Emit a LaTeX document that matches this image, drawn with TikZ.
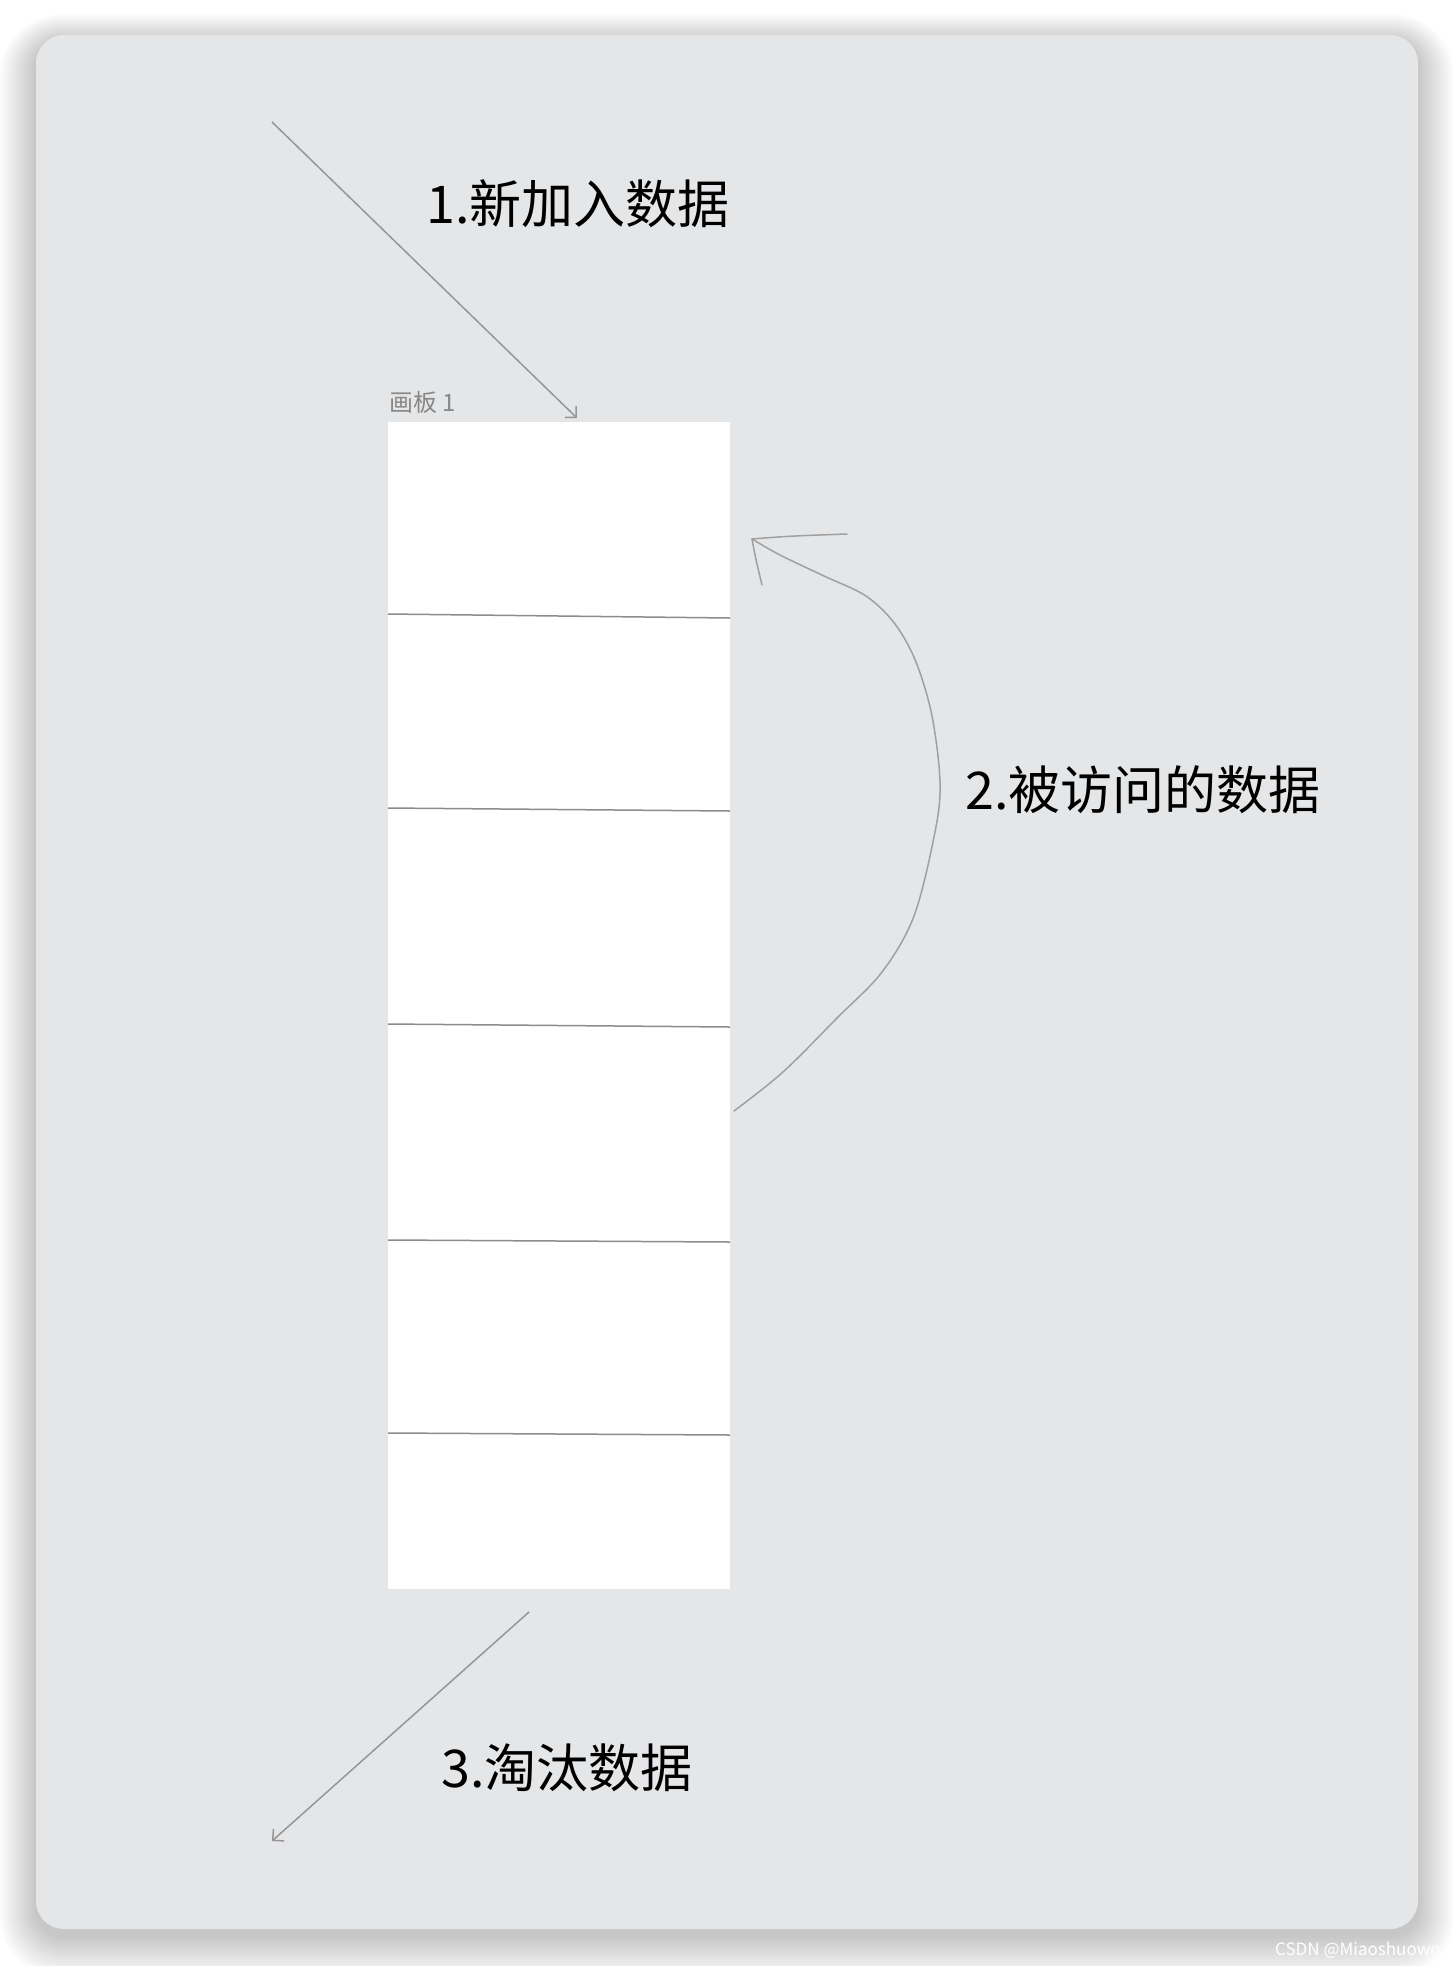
\documentclass[tikz,border=0pt]{standalone}
\usepackage{fontspec}
\setmainfont{Noto Sans CJK SC}
\usetikzlibrary{arrows.meta}
\definecolor{panelbg}{RGB}{229,230,232}
\definecolor{arrowgray}{RGB}{150,150,150}
\definecolor{curvegray}{RGB}{160,160,160}
\definecolor{linegray}{RGB}{140,140,140}
\definecolor{labelgray}{RGB}{135,135,135}
\tikzset{
  bigtext/.style={anchor=west, inner sep=0pt, font=\fontsize{52}{60}\selectfont, text=black},
  arrowline/.style={draw=arrowgray, line width=1.5pt, -{Straight Barb[length=8pt,width=16pt,line width=1.5pt]}},
  sketch/.style={draw=curvegray, line width=1.5pt, line cap=round},
  divider/.style={draw=linegray, line width=1.5pt},
  cellbox/.style={fill=white, draw=none, inner sep=0pt, outer sep=0pt, anchor=north west}
}
\begin{document}
\begin{tikzpicture}[x=1pt,y=-1pt]
\useasboundingbox (0,0) rectangle (1454,1966);
\fill[white] (0,0) rectangle (1454,1966);
% shadow
\foreach \i in {1,...,28} {
  \fill[black, opacity=0.008, rounded corners={28+\i*1.2}]
    (36-\i*1.3, 35-\i*1.0+7) rectangle (1418+\i*1.3, 1929+\i*1.5+7);
}
% panel
\fill[panelbg, rounded corners=28] (36,35) rectangle (1418,1929);
% column
\node[cellbox, minimum width=342pt, minimum height=1167pt] (col) at (388,422) {};
\node[anchor=south west, inner sep=0pt, font=\fontsize{24}{28}\selectfont, text=labelgray] (board) at (389,414) {画板 1};
% dividers
\coordinate (d1l) at (388,614); \coordinate (d1r) at (730,618);
\coordinate (d2l) at (388,808); \coordinate (d2r) at (730,811);
\coordinate (d3l) at (388,1024); \coordinate (d3r) at (730,1027);
\coordinate (d4l) at (388,1240); \coordinate (d4r) at (730,1242);
\coordinate (d5l) at (388,1433); \coordinate (d5r) at (730,1435);
\foreach \k in {1,...,5} { \draw[divider] (d\k l) -- (d\k r); }
% labels
\node[bigtext] (t1) at (426,204) {1.新加入数据};
\node[bigtext] (t2) at (965,790) {2.被访问的数据};
\node[bigtext] (t3) at (441,1768) {3.淘汰数据};
% arrow 1
\coordinate (a1s) at (272,122);
\coordinate (a1e) at (577,418);
\draw[arrowline] (a1s) -- (a1e);
% arrow 3
\coordinate (a3s) at (529,1612);
\coordinate (a3e) at (272,1841);
\draw[arrowline] (a3s) -- (a3e);
% curve 2
\coordinate (cs) at (734,1111);
\coordinate (tip) at (752,539);
\coordinate (barbA) at (847,534);
\coordinate (barbB) at (762,585);
\draw[sketch] plot[smooth, tension=0.55] coordinates {(cs) (783,1072) (837,1018) (882,972) (914,916) (935,832) (940,782) (932,716) (916,662) (895,624) (866,596) (824,576) (780,555) (tip)};
\draw[sketch] (tip) .. controls (790,536) .. (barbA);
\draw[sketch] (tip) .. controls (756,560) .. (barbB);
% watermark
\node[anchor=west, inner sep=0pt, font=\fontsize{17}{20}\selectfont, text=white] (wm) at (1275,1950) {CSDN @Miaoshuowo};
\end{tikzpicture}
\end{document}
